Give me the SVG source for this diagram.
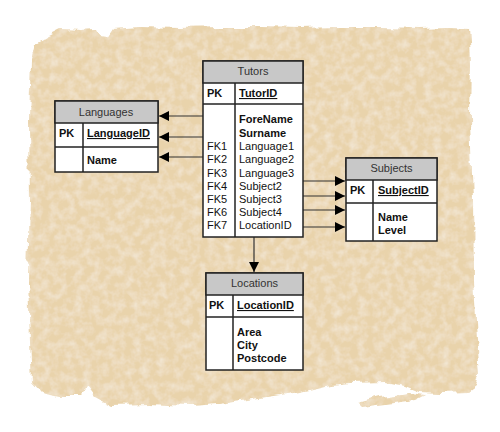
<svg xmlns="http://www.w3.org/2000/svg" width="500" height="432" viewBox="0 0 500 432">
<defs>
<filter id="rough" x="-5%" y="-5%" width="110%" height="110%">
<feTurbulence type="fractalNoise" baseFrequency="0.06" numOctaves="3" seed="4" result="n"/>
<feDisplacementMap in="SourceGraphic" in2="n" scale="9" xChannelSelector="R" yChannelSelector="G" result="d"/>
<feTurbulence type="fractalNoise" baseFrequency="0.12" numOctaves="3" seed="7" result="t"/>
<feColorMatrix in="t" type="matrix" values="0 0 0 0 1  0 0 0 0 1  0 0 0 0 1  0 0 0 0.7 -0.25" result="spots"/>
<feComposite in="spots" in2="d" operator="in" result="s2"/>
<feMerge><feMergeNode in="d"/><feMergeNode in="s2"/></feMerge>
</filter>
<marker id="ah" viewBox="0 0 10 10" refX="10" refY="5" markerWidth="11" markerHeight="10" markerUnits="userSpaceOnUse" orient="auto">
<path d="M0,0 L10,5 L0,10 z" fill="#000"/>
</marker>
<style>
.box{fill:#fff;stroke:#222;stroke-width:1.5}
.hd{fill:#c8c8c8;stroke:#222;stroke-width:1.5}
.ln{stroke:#222;stroke-width:1.5;fill:none}
.t{font-family:"Liberation Sans",Arial,sans-serif;font-size:11px;fill:#111}
.h{font-family:"Liberation Sans",Arial,sans-serif;font-size:11px;fill:#333;text-anchor:middle}
.b{font-weight:bold}
.u{text-decoration:underline}
.c{stroke:#333;stroke-width:1.2;fill:none;marker-end:url(#ah)}
</style>
</defs>
<path filter="url(#rough)" fill="#e9d3ab" d="M35,44 L48,36 62,29 80,30 96,29 100,37 106,38 112,29 140,27 180,28 220,27 260,27 300,28 340,27 380,27 420,28 450,27 469,28 471,60 470,120 473,200 474,280 477,340 480,372 476,386 468,392 440,393 420,392 405,386 385,382 350,383 330,385 300,392 260,398 220,404 190,406 150,404 110,405 95,397 88,388 80,396 60,396 40,392 32,383 30,340 28,280 30,200 29,120 31,60 z"/>
<path filter="url(#rough)" fill="#e9d3ab" d="M358,403 L380,397 410,393 425,395 415,400 385,404 362,407 z"/>

<g id="connectors">
<line class="c" x1="203" y1="116" x2="159" y2="116"/>
<line class="c" x1="203" y1="137" x2="159" y2="137"/>
<line class="c" x1="203" y1="157" x2="159" y2="157"/>
<line class="c" x1="303" y1="181" x2="345" y2="181"/>
<line class="c" x1="303" y1="196" x2="345" y2="196"/>
<line class="c" x1="303" y1="210" x2="345" y2="210"/>
<line class="c" x1="303" y1="227" x2="345" y2="227"/>
<line class="c" x1="254" y1="237" x2="254" y2="272"/>
</g>

<g id="tutors">
<rect class="box" x="203" y="61" width="100" height="176"/>
<rect class="hd" x="203" y="61" width="100" height="22"/>
<line class="ln" x1="203" y1="104" x2="303" y2="104"/>
<line class="ln" x1="235" y1="83" x2="235" y2="237"/>
<text class="h" x="253" y="75">Tutors</text>
<text class="t b" x="207" y="97">PK</text>
<text class="t b u" x="239" y="97">TutorID</text>
<text class="t b" x="239" y="123">ForeName</text>
<text class="t b" x="239" y="136.5">Surname</text>
<text class="t" x="207" y="150">FK1</text>
<text class="t" x="239" y="150">Language1</text>
<text class="t" x="207" y="163">FK2</text>
<text class="t" x="239" y="163">Language2</text>
<text class="t" x="207" y="176.5">FK3</text>
<text class="t" x="239" y="176.5">Language3</text>
<text class="t" x="207" y="189.5">FK4</text>
<text class="t" x="239" y="189.5">Subject2</text>
<text class="t" x="207" y="203">FK5</text>
<text class="t" x="239" y="203">Subject3</text>
<text class="t" x="207" y="216">FK6</text>
<text class="t" x="239" y="216">Subject4</text>
<text class="t" x="207" y="229">FK7</text>
<text class="t" x="239" y="229">LocationID</text>
</g>

<g id="languages">
<rect class="box" x="55" y="101" width="103" height="71"/>
<rect class="hd" x="55" y="101" width="103" height="22"/>
<line class="ln" x1="55" y1="147" x2="158" y2="147"/>
<line class="ln" x1="83" y1="123" x2="83" y2="172"/>
<text class="h" x="106" y="115.5">Languages</text>
<text class="t b" x="59" y="137">PK</text>
<text class="t b u" x="87" y="137">LanguageID</text>
<text class="t b" x="87" y="164">Name</text>
</g>

<g id="subjects">
<rect class="box" x="346" y="158" width="91" height="83"/>
<rect class="hd" x="346" y="158" width="91" height="22"/>
<line class="ln" x1="346" y1="203" x2="437" y2="203"/>
<line class="ln" x1="373" y1="180" x2="373" y2="241"/>
<text class="h" x="391.5" y="172">Subjects</text>
<text class="t b" x="350" y="194">PK</text>
<text class="t b u" x="378" y="194">SubjectID</text>
<text class="t b" x="378" y="221">Name</text>
<text class="t b" x="378" y="234">Level</text>
</g>

<g id="locations">
<rect class="box" x="206" y="273" width="97" height="97"/>
<rect class="hd" x="206" y="273" width="97" height="22"/>
<line class="ln" x1="206" y1="317" x2="303" y2="317"/>
<line class="ln" x1="233" y1="295" x2="233" y2="370"/>
<text class="h" x="254.5" y="287">Locations</text>
<text class="t b" x="209" y="309">PK</text>
<text class="t b u" x="237" y="309">LocationID</text>
<text class="t b" x="237" y="336">Area</text>
<text class="t b" x="237" y="349">City</text>
<text class="t b" x="237" y="362">Postcode</text>
</g>
</svg>
